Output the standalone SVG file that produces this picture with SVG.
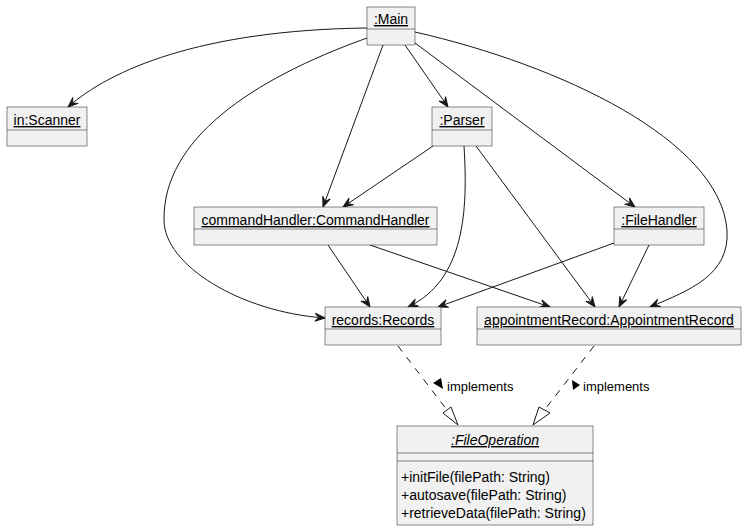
<svg xmlns="http://www.w3.org/2000/svg" width="749" height="531" viewBox="0 0 749 531">
<defs>
<style>
.box{fill:#F1F1F1;stroke:#181818;stroke-width:0.5}
.div{stroke:#181818;stroke-width:0.5}
.t{font-family:"Liberation Sans",Arial,sans-serif;font-size:14px;fill:#000;text-anchor:middle;text-decoration:underline}
.m{font-family:"Liberation Sans",Arial,sans-serif;font-size:14px;fill:#000}
.lbl{font-family:"Liberation Sans",Arial,sans-serif;font-size:13px;fill:#000}
.e{fill:none;stroke:#181818;stroke-width:1;marker-end:url(#arr)}
.d{fill:none;stroke:#181818;stroke-width:1;stroke-dasharray:7,7}
</style>
<marker id="arr" markerUnits="userSpaceOnUse" viewBox="-11 -5 12 10" refX="0" refY="0" markerWidth="12" markerHeight="10" orient="auto">
<path d="M0,0 L-10,-4 L-6,0 L-10,4 Z" fill="#181818" stroke="#181818" stroke-width="1"/>
</marker>
</defs>
<rect width="749" height="531" fill="#FFFFFF"/>
<g id="connectors">
<path class="e" d="M367,28 C200,30 110,70 68,107"/>
<path class="e" d="M383,45 L323,207"/>
<path class="e" d="M405,45 L448,107"/>
<path class="e" d="M415,43 L635,207"/>
<path class="e" d="M367,38 C250,80 163,140 164,220 C164,265 240,312 325,318"/>
<path class="e" d="M415,32 C560,65 720,140 727,230 C730,275 690,290 650,307"/>
<path class="e" d="M433,146 L343,207"/>
<path class="e" d="M464,146 C468,210 465,280 408,307"/>
<path class="e" d="M476,146 L595,307"/>
<path class="e" d="M328,245 L370,307"/>
<path class="e" d="M370,245 L550,307"/>
<path class="e" d="M614,243 L438,307"/>
<path class="e" d="M649,245 L619,307"/>
<path class="d" d="M398,346 L447,410"/>
<polygon points="443,413 451,407 458,425" fill="none" stroke="#181818" stroke-width="1"/>
<path class="d" d="M594,346 L544.5,410"/>
<polygon points="539,407 550,413 533,425" fill="none" stroke="#181818" stroke-width="1"/>
<polygon points="433,383 441,378 443,389" fill="#000"/>
<text class="lbl" x="447" y="391">implements</text>
<polygon points="572,380 580,385 573,390" fill="#000"/>
<text class="lbl" x="583" y="391">implements</text>
</g>
<g id="main">
<rect class="box" x="367" y="7" width="48" height="38"/>
<line class="div" x1="367" y1="29" x2="415" y2="29"/>
<text class="t" x="391" y="24">:Main</text>
</g>
<g id="scanner">
<rect class="box" x="7" y="107" width="80" height="39"/>
<line class="div" x1="7" y1="130" x2="87" y2="130"/>
<text class="t" x="47" y="125">in:Scanner</text>
</g>
<g id="parser">
<rect class="box" x="432" y="107" width="60" height="39"/>
<line class="div" x1="432" y1="130" x2="492" y2="130"/>
<text class="t" x="462" y="125">:Parser</text>
</g>
<g id="commandHandler">
<rect class="box" x="194" y="207" width="243" height="38"/>
<line class="div" x1="194" y1="229" x2="437" y2="229"/>
<text class="t" x="315.5" y="225">commandHandler:CommandHandler</text>
</g>
<g id="fileHandler">
<rect class="box" x="614" y="207" width="90" height="38"/>
<line class="div" x1="614" y1="229" x2="704" y2="229"/>
<text class="t" x="659" y="225">:FileHandler</text>
</g>
<g id="records">
<rect class="box" x="325" y="307" width="116" height="38"/>
<line class="div" x1="325" y1="329" x2="441" y2="329"/>
<text class="t" x="383" y="325">records:Records</text>
</g>
<g id="appointmentRecord">
<rect class="box" x="477" y="307" width="264" height="38"/>
<line class="div" x1="477" y1="329" x2="741" y2="329"/>
<text class="t" x="609" y="325">appointmentRecord:AppointmentRecord</text>
</g>
<g id="fileOperation">
<rect class="box" x="397" y="426" width="196" height="99"/>
<line class="div" x1="397" y1="453" x2="593" y2="453"/>
<line class="div" x1="397" y1="461" x2="593" y2="461"/>
<text class="t" x="495" y="445" font-style="italic">:FileOperation</text>
<text class="m" x="401" y="482">+initFile(filePath: String)</text>
<text class="m" x="401" y="500">+autosave(filePath: String)</text>
<text class="m" x="401" y="518">+retrieveData(filePath: String)</text>
</g>
</svg>
